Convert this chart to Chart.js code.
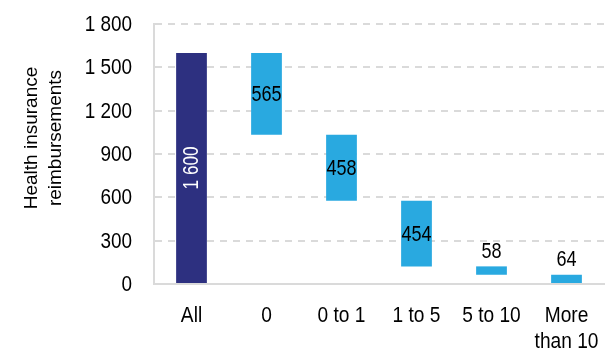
<!DOCTYPE html>
<html>
<head>
<meta charset="utf-8">
<script src="https://cdn.jsdelivr.net/npm/chart.js@4"></script>
<style>
  html, body { margin: 0; padding: 0; background: #fff; }
  #wrap { width: 606px; height: 349px; }
</style>
</head>
<body>
<div id="wrap"><canvas id="c"></canvas></div>
<script>
// Waterfall: total reimbursements split by group
const categories = ['All', '0', '0 to 1', '1 to 5', '5 to 10', ['More', 'than 10']];
const total = 1600;
const groupValues = [565, 458, 454, 58, 64];
const yTicks = [0, 300, 600, 900, 1200, 1500, 1800];
const yTitle = ['Health insurance', 'reimbursements'];

const FONT = "'Liberation Sans', Arial, sans-serif";
const NAVY = '#2d3080';
const BLUE = '#29a9e0';
const GRID = '#dadada';

// Each group bar floats on top of the groups that follow it
const floating = groupValues.map((v, i) => {
  const base = groupValues.slice(i + 1).reduce((a, b) => a + b, 0);
  return [base, base + v];
});
const barData = [[0, total], ...floating];
const labelValues = [total, ...groupValues];

const fmt = n => String(n).replace(/\B(?=(\d{3})+(?!\d))/g, ' ');

// Narrow lettering: regular face squeezed horizontally
function narrowText(ctx, text, x, y, opts) {
  ctx.save();
  ctx.font = opts.size + 'px ' + FONT;
  ctx.fillStyle = opts.color || '#000';
  ctx.textAlign = opts.align || 'center';
  ctx.textBaseline = opts.baseline || 'alphabetic';
  ctx.translate(x, y);
  if (opts.rotate) ctx.rotate(opts.rotate);
  ctx.scale(opts.squeeze || 1, 1);
  ctx.fillText(text, 0, 0);
  ctx.restore();
}

const axisLabels = {
  id: 'axisLabels',
  afterDraw(chart) {
    const ctx = chart.ctx;
    const xs = chart.scales.x;
    const ys = chart.scales.y;
    // value axis tick labels
    yTicks.forEach(v => {
      narrowText(ctx, fmt(v), ys.right - 22, ys.getPixelForValue(v) + 1,
        { size: 22, align: 'right', baseline: 'middle', squeeze: 0.86 });
    });
    // category labels
    categories.forEach((c, i) => {
      const lines = Array.isArray(c) ? c : [c];
      const x = xs.getPixelForValue(i);
      lines.forEach((line, k) => {
        narrowText(ctx, line, x, xs.top + 38 + k * 26,
          { size: 22, align: 'center', squeeze: 0.87 });
      });
    });
    // value axis title
    yTitle.forEach((line, k) => {
      narrowText(ctx, line, 36.5 + k * 24, 138,
        { size: 19, align: 'center', rotate: -Math.PI / 2 });
    });
  }
};

const valueLabels = {
  id: 'valueLabels',
  afterDatasetsDraw(chart) {
    const ctx = chart.ctx;
    const meta = chart.getDatasetMeta(0);
    meta.data.forEach((bar, i) => {
      const text = fmt(labelValues[i]);
      const top = Math.min(bar.y, bar.base);
      const bottom = Math.max(bar.y, bar.base);
      const mid = (top + bottom) / 2;
      if (i === 0) {
        narrowText(ctx, text, bar.x, mid,
          { size: 22, color: '#ffffff', baseline: 'middle', rotate: -Math.PI / 2, squeeze: 0.78 });
      } else if (bottom - top > 30) {
        narrowText(ctx, text, bar.x, mid + 1,
          { size: 22, baseline: 'middle', squeeze: 0.82 });
      } else {
        narrowText(ctx, text, bar.x, top - 14.5,
          { size: 22, baseline: 'middle', squeeze: 0.82 });
      }
    });
  }
};

new Chart(document.getElementById('c'), {
  type: 'bar',
  data: {
    labels: categories,
    datasets: [{
      data: barData,
      backgroundColor: barData.map((_, i) => i === 0 ? NAVY : BLUE),
      borderWidth: 0,
      barPercentage: 0.41,
      categoryPercentage: 1
    }]
  },
  options: {
    responsive: true,
    maintainAspectRatio: false,
    animation: false,
    events: [],
    layout: { padding: { top: 24, right: 2, left: 0, bottom: 0 } },
    plugins: { legend: { display: false }, tooltip: { enabled: false } },
    scales: {
      x: {
        grid: { display: false },
        border: { display: true, color: GRID, width: 2 },
        ticks: { display: false },
        afterFit: s => { s.height = 65; }
      },
      y: {
        min: 0,
        max: 1800,
        afterBuildTicks: s => { s.ticks = yTicks.map(v => ({ value: v })); },
        afterFit: s => { s.width = 154; },
        grid: { color: GRID, lineWidth: 2, drawTicks: false },
        border: { display: true, color: GRID, width: 2, dash: [7, 6] },
        ticks: { display: false }
      }
    }
  },
  plugins: [valueLabels, axisLabels]
});
</script>
</body>
</html>
